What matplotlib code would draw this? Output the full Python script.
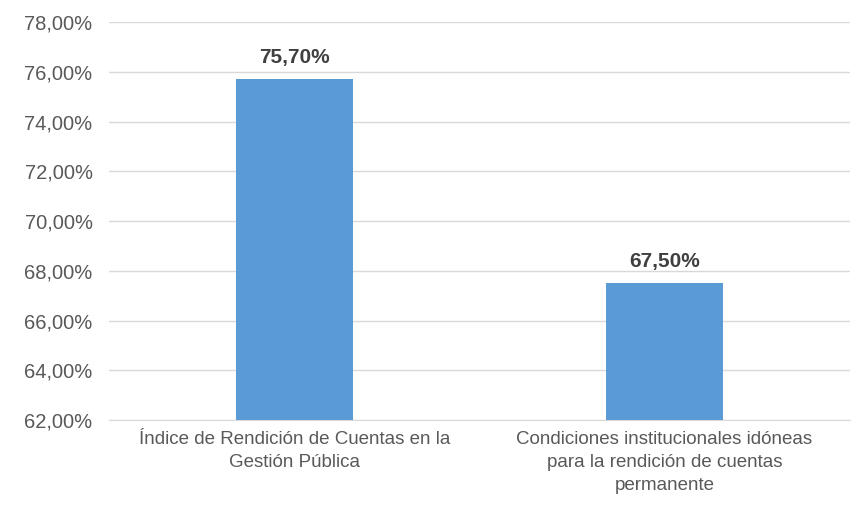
import matplotlib.pyplot as plt
from matplotlib.ticker import FuncFormatter

categories = ['Índice de Rendición de Cuentas en la\nGestión Pública',
              'Condiciones institucionales idóneas\npara la rendición de cuentas\npermanente']
values = [75.70, 67.50]
value_labels = ['75,70%', '67,50%']

plt.rcParams['font.family'] = ['Liberation Sans', 'DejaVu Sans']

fig = plt.figure(figsize=(8.53, 5.07), dpi=100)
ax = fig.add_axes([0.128, 0.1716, 0.868, 0.785])

x = range(len(categories))
ax.bar(x, values, width=0.316, color='#5B9BD5', zorder=3)
ax.set_ylim(62, 78)
ax.set_xlim(-0.5, 1.5)
ax.set_yticks(range(62, 79, 2))
ax.yaxis.set_major_formatter(FuncFormatter(lambda v, p: f'{v:.2f}%'.replace('.', ',')))
ax.grid(axis='y', color='#D9D9D9', linewidth=1, zorder=0)
for s in ['top', 'right', 'left']:
    ax.spines[s].set_visible(False)
ax.spines['bottom'].set_color('#D9D9D9')
ax.tick_params(axis='y', length=0, labelsize=14.5, labelcolor='#595959', pad=12)
ax.tick_params(axis='x', length=0, pad=8)
ax.set_xticks(list(x))
ax.set_xticklabels(categories, fontsize=13.5, color='#595959', linespacing=1.45)

for i, v in enumerate(values):
    ax.annotate(value_labels[i], (i, v), xytext=(0, 9), textcoords='offset points',
                ha='center', va='bottom', fontsize=15, fontweight='bold', color='#404040')

fig.savefig('out.png', dpi=100)
